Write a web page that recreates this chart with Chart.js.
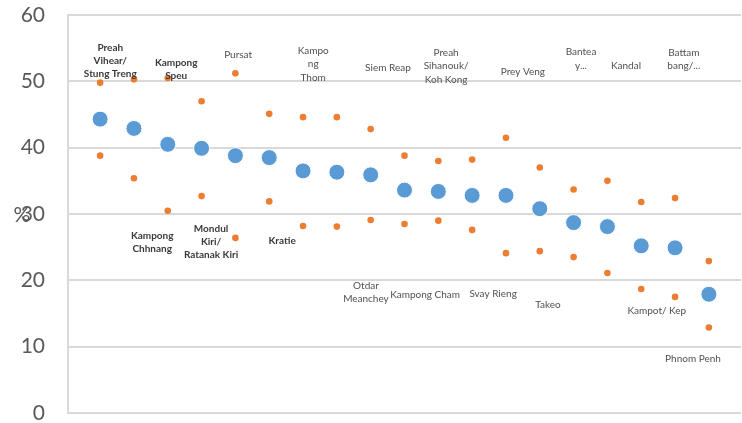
<!DOCTYPE html>
<html><head><meta charset="utf-8">
<script src="https://cdn.jsdelivr.net/npm/chart.js@4/dist/chart.umd.min.js"></script>
<style>html,body{margin:0;padding:0;background:#fff}#wrap{width:742px;height:423px;position:relative}</style>
</head><body><div id="wrap"><canvas id="c"></canvas></div>
<script>
// Provinces (label text, line breaks as shown)
const categories = [
  ["Preah","Vihear/","Stung Treng"],
  ["Kampong","Chhnang"],
  ["Kampong","Speu"],
  ["Mondul","Kiri/","Ratanak Kiri"],
  ["Pursat"],
  ["Kratie"],
  ["Kampo","ng","Thom"],
  ["Otdar","Meanchey"],
  ["Siem Reap"],
  ["Kampong Cham"],
  ["Preah","Sihanouk/","Koh Kong"],
  ["Svay Rieng"],
  ["Prey Veng"],
  ["Takeo"],
  ["Bantea","y..."],
  ["Kandal"],
  ["Kampot/ Kep"],
  ["Battam","bang/..."],
  ["Phnom Penh"]
];
const boldLabels = [true,true,true,true,false,true,false,false,false,false,false,false,false,false,false,false,false,false,false];
// Point estimate (%)
const estimate = [44.3,42.9,40.5,39.9,38.8,38.5,36.5,36.3,35.9,33.6,33.4,32.8,32.8,30.8,28.7,28.1,25.2,24.9,17.9];
// Upper bound (%)
const upper = [49.8,50.3,50.5,47.0,51.2,45.1,44.6,44.6,42.8,38.8,38.0,38.2,41.5,37.0,33.7,35.0,31.8,32.4,22.9];
// Lower bound (%)
const lower = [38.8,35.4,30.5,32.7,26.4,31.9,28.2,28.1,29.1,28.5,29.0,27.6,24.1,24.4,23.5,21.1,18.7,17.5,12.9];
const yTicks = [0,10,20,30,40,50,60];

// label anchor positions in axis units (layout only)
const labelPos = [
  [1.30,53.1],[2.54,25.7],[3.25,51.8],[4.28,25.8],[5.08,54.0],[6.38,25.9],[7.30,52.6],
  [8.86,18.2],[9.51,52.0],[10.61,17.8],[11.23,52.3],[12.62,17.9],[13.50,51.4],[14.24,16.3],
  [15.22,53.4],[16.55,52.3],[17.46,15.4],[18.26,53.3],[18.53,8.1]
];

const toPts = arr => arr.map((v,i)=>({x:i+1,y:v}));

const labelPlugin = {
  id:'provLabels',
  afterDatasetsDraw(chart){
    const {ctx, scales:{x,y}} = chart;
    ctx.save();
    ctx.textAlign='center';
    ctx.textBaseline='middle';
    categories.forEach((lines,i)=>{
      const cx = x.getPixelForValue(labelPos[i][0]);
      const cy = y.getPixelForValue(labelPos[i][1]);
      ctx.font = (boldLabels[i]?'bold ':'') + '10px Lato, "Open Sans", sans-serif';
      ctx.fillStyle = boldLabels[i] ? '#3a3a3a' : '#505050';
      const lh = 13.3;
      const top = cy - (lines.length-1)*lh/2;
      lines.forEach((t,k)=>ctx.fillText(t,cx,top+k*lh));
    });
    // axis title
    ctx.font = '21px Lato, "Open Sans", sans-serif';
    ctx.fillStyle = '#595959';
    ctx.fillText('%', 22, y.getPixelForValue(30)+1);
    ctx.restore();
  }
};

new Chart(document.getElementById('c'),{
  type:'scatter',
  data:{datasets:[
    {label:'Estimate',data:toPts(estimate),backgroundColor:'#5b9bd5',borderColor:'#ffffff',borderWidth:1,pointRadius:8,pointHoverRadius:8,order:1},
    {label:'Upper',data:toPts(upper),backgroundColor:'#ed7d31',borderColor:'#ed7d31',borderWidth:0,pointRadius:3.3,pointHoverRadius:3.3,order:2},
    {label:'Lower',data:toPts(lower),backgroundColor:'#ed7d31',borderColor:'#ed7d31',borderWidth:0,pointRadius:3.3,pointHoverRadius:3.3,order:2}
  ]},
  options:{
    responsive:true,maintainAspectRatio:false,animation:false,
    layout:{autoPadding:false,padding:{top:15,bottom:10,left:0,right:1}},
    plugins:{legend:{display:false},tooltip:{enabled:false}},
    scales:{
      x:{type:'linear',min:0.05,max:19.95,display:false},
      y:{min:0,max:60,
        afterFit(s){s.width=68;s.paddingTop=0;s.paddingBottom=0;},
        afterBuildTicks(s){s.ticks=yTicks.map(v=>({value:v}));},
        ticks:{color:'#595959',font:{size:21,family:'Lato, "Open Sans", sans-serif'},padding:23},
        grid:{color:'#d9d9d9',lineWidth:2,drawTicks:false},
        border:{display:true,color:'#d9d9d9',width:2}
      }
    }
  },
  plugins:[labelPlugin]
});
</script></body></html>
